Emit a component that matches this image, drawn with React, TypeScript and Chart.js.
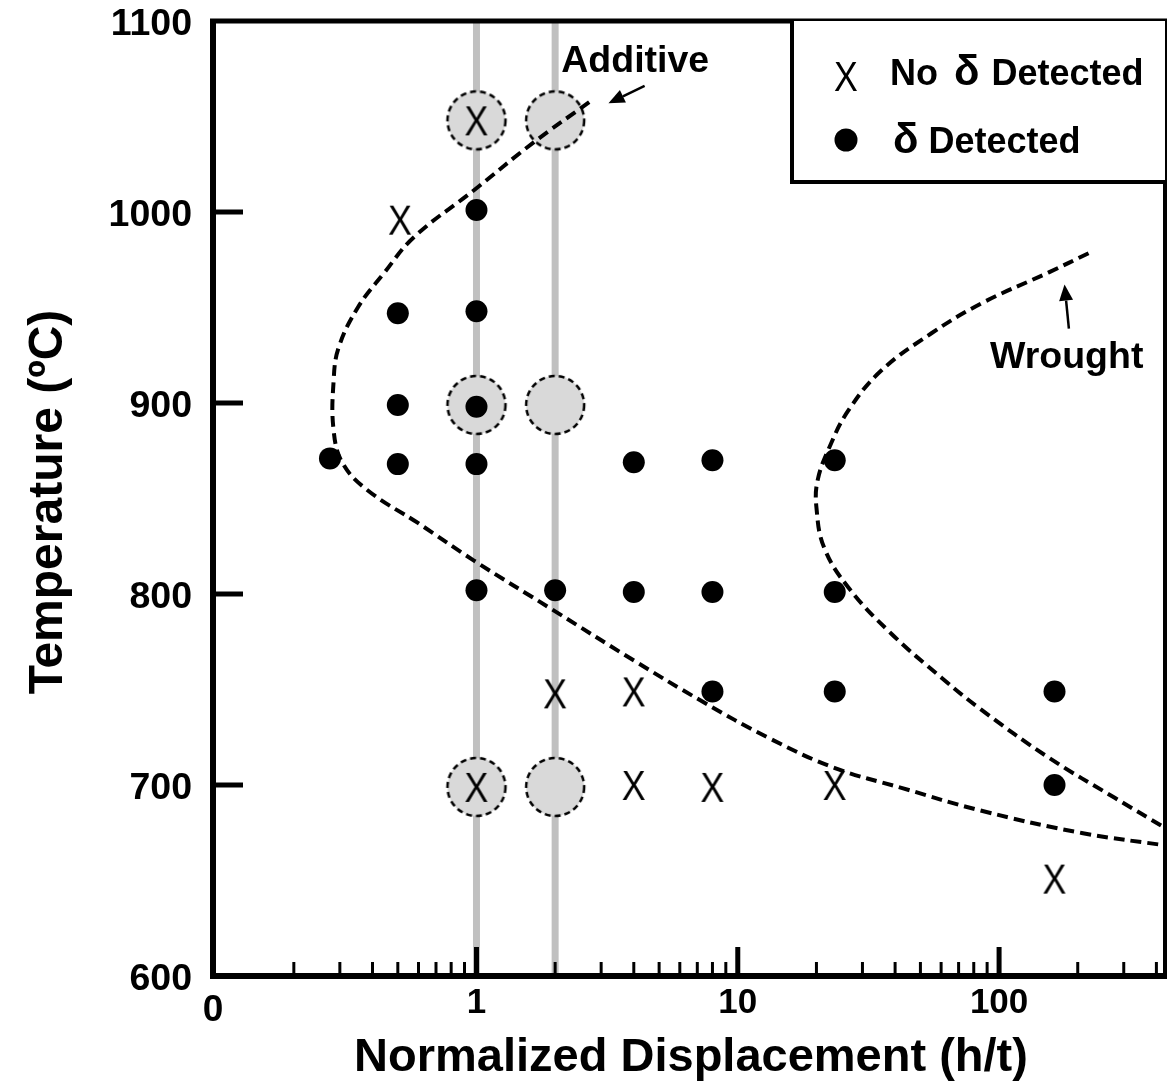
import { useEffect, useRef } from 'react';
import { Chart, registerables } from 'chart.js';

Chart.register(...registerables);

const FONT = '"Liberation Sans", Arial, Helvetica, sans-serif';

// Axis ranges (h/t is logarithmic, left end is labelled "0")
const X_MIN = 0.0981;
const X_MAX = 431.5;
const Y_MIN = 600;
const Y_MAX = 1100;

// δ detected (filled dots)
const deltaX = [1, 0.5, 1, 0.5, 1, 0.275, 0.5, 1, 4, 8, 23.5, 1, 2, 4, 8, 23.5, 8, 23.5, 163, 163];
const deltaT = [1001, 947, 948, 899, 898, 871, 868, 868, 869, 870, 870, 802, 802, 801, 801, 801, 749, 749, 749, 700];

// no δ detected (X marks)
const noDeltaX = [1, 0.51, 2, 4, 1, 4, 8, 23.5, 163];
const noDeltaT = [1048, 996, 748, 749, 699, 700, 699, 700, 651];

// shaded conditions
const ringX = [1, 2, 1, 2, 1, 2];
const ringT = [1048, 1048, 899, 899, 699, 699];

// vertical guides at h/t = 1 and 2
const guideX = [1, 2];

// δ-formation boundary, additive material
const additiveX = [2.7, 1.66, 0.978, 0.576, 0.442, 0.352, 0.297, 0.284, 0.284, 0.308, 0.384, 0.597, 0.978, 1.98, 4.01, 7.24, 13.1, 23.4, 42.3, 85.7, 207, 446];
const additiveT = [1057.5, 1036.6, 1011.4, 986.8, 967.9, 950.1, 929.1, 911.8, 885.6, 868.3, 854.2, 837.2, 817.5, 791.3, 765.1, 744.1, 724.7, 709, 698.5, 686.5, 674.9, 668.1];

// δ-formation boundary, wrought material
const wroughtX = [220, 155, 85.7, 55.1, 35.5, 26.5, 22.4, 20.2, 20.0, 21.4, 26.5, 38.7, 60.2, 85.7, 155, 277, 431];
const wroughtT = [978.4, 968.4, 952.2, 936.5, 917.1, 896.1, 876.7, 859.4, 845.3, 824.3, 803.4, 779.2, 756.2, 739.3, 714.3, 693.3, 677.6];

// ticks
const yTickValues = [600, 700, 800, 900, 1000, 1100];
const yInnerTicks = [700, 800, 900, 1000];
const xMajorTicks = [1, 10, 100];
const xMinorTicks = [0.2, 0.3, 0.4, 0.5, 0.6, 0.7, 0.8, 0.9, 2, 3, 4, 5, 6, 7, 8, 9, 20, 30, 40, 50, 60, 70, 80, 90, 200, 300, 400];
const xLabelValues = [X_MIN, 1, 10, 100];
const xLabelTexts = ['0', '1', '10', '100'];

// annotation anchors (data coordinates)
const additiveLabel = { x: 4.05, y: 1073.3, text: 'Additive' };
const additiveArrow = { from: [4.4, 1066], to: [3.2, 1057] };
const wroughtLabel = { x: 181.4, y: 918.3, text: 'Wrought' };
const wroughtArrow = { from: [185, 939], to: [178, 962] };

const pts = (xs: number[], ys: number[]) => xs.map((x, i) => ({ x, y: ys[i] }));

function makeXMark(): HTMLCanvasElement {
  const c = document.createElement('canvas');
  c.width = 30;
  c.height = 36;
  const g = c.getContext('2d')!;
  g.fillStyle = '#000';
  g.translate(15, 18);
  g.scale(0.85, 1);
  g.font = `42px ${FONT}`;
  g.textAlign = 'center';
  g.textBaseline = 'alphabetic';
  g.fillText('X', 0, 15);
  return c;
}

function makeRing(): HTMLCanvasElement {
  const c = document.createElement('canvas');
  c.width = 64;
  c.height = 64;
  const g = c.getContext('2d')!;
  g.beginPath();
  g.arc(32, 32, 29, 0, Math.PI * 2);
  g.fillStyle = '#d9d9d9';
  g.fill();
  g.setLineDash([6, 4]);
  g.lineWidth = 2.5;
  g.strokeStyle = '#000';
  g.stroke();
  return c;
}

function drawArrow(ctx: CanvasRenderingContext2D, x1: number, y1: number, x2: number, y2: number) {
  const ang = Math.atan2(y2 - y1, x2 - x1);
  const head = 16;
  const half = 7;
  const bx = x2 - head * Math.cos(ang);
  const by = y2 - head * Math.sin(ang);
  ctx.beginPath();
  ctx.lineWidth = 2.5;
  ctx.moveTo(x1, y1);
  ctx.lineTo(bx, by);
  ctx.stroke();
  ctx.beginPath();
  ctx.moveTo(x2, y2);
  ctx.lineTo(bx + half * Math.sin(ang), by - half * Math.cos(ang));
  ctx.lineTo(bx - half * Math.sin(ang), by + half * Math.cos(ang));
  ctx.closePath();
  ctx.fill();
}

function makeFramePlugin(xMark: HTMLCanvasElement) {
  return {
    id: 'frameAndNotes',
    afterDatasetsDraw(chart: any) {
      const { ctx, chartArea: a, scales } = chart;
      const xs = scales.x;
      const ys = scales.y;
      ctx.save();
      ctx.strokeStyle = '#000';
      ctx.fillStyle = '#000';
      ctx.lineCap = 'butt';
      ctx.setLineDash([]);

      // x ticks (inward)
      ctx.lineWidth = 3;
      xMinorTicks.forEach((v) => {
        const px = xs.getPixelForValue(v);
        ctx.beginPath();
        ctx.moveTo(px, a.bottom);
        ctx.lineTo(px, a.bottom - 14);
        ctx.stroke();
      });
      ctx.lineWidth = 5;
      xMajorTicks.forEach((v) => {
        const px = xs.getPixelForValue(v);
        ctx.beginPath();
        ctx.moveTo(px, a.bottom);
        ctx.lineTo(px, a.bottom - 29);
        ctx.stroke();
      });
      // y ticks (inward)
      yInnerTicks.forEach((v) => {
        const py = ys.getPixelForValue(v);
        ctx.beginPath();
        ctx.moveTo(a.left, py);
        ctx.lineTo(a.left + 30, py);
        ctx.stroke();
      });

      // frame
      ctx.lineWidth = 5;
      ctx.beginPath();
      ctx.moveTo(a.left - 3, a.top);
      ctx.lineTo(a.right + 2, a.top);
      ctx.stroke();
      ctx.lineWidth = 4;
      ctx.beginPath();
      ctx.moveTo(a.right, a.top);
      ctx.lineTo(a.right, a.bottom);
      ctx.stroke();
      ctx.lineWidth = 6;
      ctx.beginPath();
      ctx.moveTo(a.left, a.top - 2);
      ctx.lineTo(a.left, a.bottom + 3);
      ctx.stroke();
      ctx.beginPath();
      ctx.moveTo(a.left - 3, a.bottom);
      ctx.lineTo(a.right + 2, a.bottom);
      ctx.stroke();

      // y tick labels
      ctx.font = `bold 37.5px ${FONT}`;
      ctx.textAlign = 'right';
      ctx.textBaseline = 'alphabetic';
      yTickValues.forEach((v) => {
        const py = ys.getPixelForValue(v);
        ctx.fillText(String(v), a.left - 21, py + 13.5);
      });

      // x tick labels
      ctx.textAlign = 'center';
      xLabelValues.forEach((v, i) => {
        const px = xs.getPixelForValue(v);
        if (i === 0) {
          ctx.font = `bold 37px ${FONT}`;
          ctx.fillText(xLabelTexts[i], px, a.bottom + 45);
        } else {
          ctx.font = `bold 35px ${FONT}`;
          ctx.fillText(xLabelTexts[i], px, a.bottom + 37);
        }
      });

      // axis titles
      ctx.font = `bold 47px ${FONT}`;
      ctx.textAlign = 'center';
      ctx.fillText('Normalized Displacement (h/t)', (a.left + a.right) / 2 + 2, 1071);
      ctx.save();
      ctx.font = `bold 48px ${FONT}`;
      ctx.translate(62, 502);
      ctx.rotate(-Math.PI / 2);
      ctx.fillText('Temperature (ºC)', 0, 0);
      ctx.restore();

      // legend box
      const lx = 792;
      const lb = 182;
      ctx.fillStyle = '#fff';
      ctx.fillRect(lx, a.top, a.right - lx, lb - a.top);
      ctx.fillStyle = '#000';
      ctx.lineWidth = 4;
      ctx.beginPath();
      ctx.moveTo(lx, a.top);
      ctx.lineTo(lx, lb);
      ctx.lineTo(a.right, lb);
      ctx.stroke();

      // legend row 1: X  No δ Detected
      ctx.drawImage(xMark, 846 - xMark.width / 2, 76 - xMark.height / 2);
      ctx.textAlign = 'left';
      let cx = 890;
      ctx.font = `bold 36px ${FONT}`;
      ctx.fillText('No', cx, 85);
      cx += ctx.measureText('No ').width + 6;
      ctx.font = `bold 42px ${FONT}`;
      ctx.fillText('δ', cx, 85);
      cx += ctx.measureText('δ').width + 2;
      ctx.font = `bold 36px ${FONT}`;
      ctx.fillText(' Detected', cx, 85);

      // legend row 2: ●  δ Detected
      ctx.beginPath();
      ctx.arc(846, 140, 11.5, 0, Math.PI * 2);
      ctx.fill();
      cx = 893;
      ctx.font = `bold 42px ${FONT}`;
      ctx.fillText('δ', cx, 153);
      cx += ctx.measureText('δ').width;
      ctx.font = `bold 36px ${FONT}`;
      ctx.fillText(' Detected', cx, 153);

      // annotations
      ctx.font = `bold 37.5px ${FONT}`;
      ctx.textAlign = 'center';
      ctx.fillText(additiveLabel.text, xs.getPixelForValue(additiveLabel.x), ys.getPixelForValue(additiveLabel.y));
      ctx.fillText(wroughtLabel.text, xs.getPixelForValue(wroughtLabel.x), ys.getPixelForValue(wroughtLabel.y));
      drawArrow(
        ctx,
        xs.getPixelForValue(additiveArrow.from[0]),
        ys.getPixelForValue(additiveArrow.from[1]),
        xs.getPixelForValue(additiveArrow.to[0]),
        ys.getPixelForValue(additiveArrow.to[1])
      );
      drawArrow(
        ctx,
        xs.getPixelForValue(wroughtArrow.from[0]),
        ys.getPixelForValue(wroughtArrow.from[1]),
        xs.getPixelForValue(wroughtArrow.to[0]),
        ys.getPixelForValue(wroughtArrow.to[1])
      );
      ctx.restore();
    },
  };
}

export default function App() {
  const ref = useRef<HTMLCanvasElement>(null);

  useEffect(() => {
    const canvas = ref.current;
    if (!canvas) return;
    const xMark = makeXMark();
    const ring = makeRing();

    const curve = (xs: number[], ys: number[], label: string) => ({
      label,
      data: pts(xs, ys),
      showLine: true,
      pointRadius: 0,
      borderColor: '#000',
      borderWidth: 4,
      borderDash: [11, 6],
      tension: 0.4,
      fill: false,
      order: 2,
    });

    const chart = new Chart(canvas, {
      type: 'scatter',
      data: {
        datasets: [
          {
            label: 'δ Detected',
            data: pts(deltaX, deltaT),
            pointStyle: 'circle',
            pointRadius: 11,
            backgroundColor: '#000',
            borderColor: '#000',
            borderWidth: 0,
            order: 0,
          },
          {
            label: 'No δ Detected',
            data: pts(noDeltaX, noDeltaT),
            pointStyle: xMark,
            pointRadius: 15,
            order: 1,
          },
          curve(additiveX, additiveT, 'Additive'),
          curve(wroughtX, wroughtT, 'Wrought'),
          {
            label: 'shaded',
            data: pts(ringX, ringT),
            pointStyle: ring,
            pointRadius: 30,
            order: 3,
          },
          ...guideX.map((g) => ({
            label: `h/t = ${g}`,
            data: [
              { x: g, y: Y_MIN },
              { x: g, y: Y_MAX },
            ],
            showLine: true,
            pointRadius: 0,
            borderColor: '#c0c0c0',
            borderWidth: 7,
            order: 4,
          })),
        ],
      } as any,
      options: {
        animation: false,
        responsive: false,
        devicePixelRatio: 1,
        events: [],
        layout: { autoPadding: false, padding: { left: 213, top: 21, right: 3, bottom: 106 } },
        scales: {
          x: { type: 'logarithmic', min: X_MIN, max: X_MAX, display: false },
          y: { type: 'linear', min: Y_MIN, max: Y_MAX, display: false },
        },
        plugins: {
          legend: { display: false },
          tooltip: { enabled: false },
        },
      } as any,
      plugins: [makeFramePlugin(xMark)],
    });

    return () => chart.destroy();
  }, []);

  return (
    <div style={{ position: 'fixed', left: 0, top: 0, width: 1168, height: 1082, background: '#fff' }}>
      <canvas ref={ref} width={1168} height={1082} style={{ display: 'block', width: 1168, height: 1082 }} />
    </div>
  );
}
